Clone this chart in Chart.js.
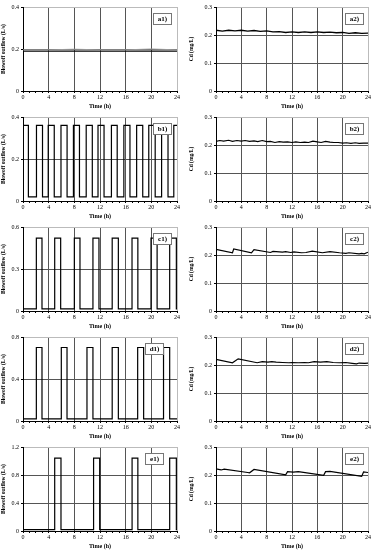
<!DOCTYPE html>
<html>
<head>
<meta charset="utf-8">
<script src="https://cdn.jsdelivr.net/npm/chart.js@4.4.0/dist/chart.umd.min.js"></script>
<style>
  body { margin: 0; background: #fff; width: 377px; height: 550px; position: relative; overflow: hidden; }
  canvas { position: absolute; }
</style>
</head>
<body>
<script>
// ---- left column: blowoff outflow (L/s), pulse start / end times (h) ----
var a1Time = [0, 24];
var a1Flow = [0.19, 0.19];
var a1bTime = [0, 4, 8, 12, 16, 20, 24];
var a1bFlow = [0.196, 0.196, 0.199, 0.196, 0.196, 0.2, 0.196];

var b1Start = [0, 2.1, 3.93, 5.92, 7.86, 9.85, 11.69, 13.78, 15.72, 17.71, 19.6, 21.6, 23.5];
var b1End = [0.84, 3.04, 4.87, 6.87, 8.8, 10.8, 12.63, 14.68, 16.67, 18.66, 20.6, 22.6, 24];
var b1Levels = [0.36, 0.02];

var c1Start = [2.08, 4.94, 8.0, 10.9, 13.9, 16.99, 19.95, 22.86];
var c1End = [2.96, 5.87, 8.88, 11.84, 14.86, 17.9, 20.9, 23.9];
var c1Levels = [0.52, 0.015];

var d1Start = [2.08, 5.97, 9.97, 13.9, 17.87, 21.9];
var d1End = [2.96, 6.86, 10.9, 14.86, 18.8, 22.86];
var d1Levels = [0.70, 0.02];

var e1Start = [4.94, 11.0, 17.0, 22.86];
var e1End = [5.92, 11.95, 17.9, 23.9];
var e1Levels = [1.04, 0.02];

// ---- right column: Cd (mg/L) ----
var a2Time = [0,1,2,3,4,5,6,7,8,9,10,11,12,13,14,15,16,17,18,19,20,21,22,23,24];
var a2Cd = [0.217,0.214,0.217,0.215,0.217,0.214,0.216,0.213,0.215,0.211,0.212,0.209,0.211,0.209,0.211,0.209,0.211,0.209,0.210,0.208,0.209,0.206,0.208,0.206,0.207];

var b2Time = [0,0.6,1.2,2,2.6,3.3,4,4.6,5.3,6,6.6,7.3,8,8.6,9.3,10,10.6,11.3,12,12.6,13.3,14,14.6,15.3,16,16.6,17.3,18,18.6,19.3,20,20.6,21.3,22,22.6,23.3,24];
var b2Cd = [0.213,0.216,0.214,0.217,0.213,0.216,0.214,0.216,0.213,0.215,0.212,0.216,0.212,0.213,0.209,0.212,0.210,0.211,0.209,0.211,0.209,0.210,0.209,0.214,0.211,0.209,0.213,0.210,0.209,0.209,0.207,0.208,0.206,0.208,0.206,0.207,0.207];

var c2Time = [0,2.6,2.8,5.6,6.0,8.6,9.0,10.5,11.0,11.8,12.3,13.5,14.2,15.2,16.8,18.0,19.5,20.5,21.0,22.6,23.0,23.4,24];
var c2Cd = [0.220,0.208,0.222,0.208,0.219,0.209,0.213,0.210,0.212,0.209,0.211,0.208,0.209,0.214,0.208,0.212,0.208,0.206,0.208,0.204,0.206,0.204,0.210];

var d2Time = [0,2.6,3.5,6.5,7.3,8.2,8.8,9.5,10.5,11.5,12,13,14,14.6,15.5,16.5,17.5,18.5,19.5,20.5,21.5,22.2,22.6,23.5,24];
var d2Cd = [0.220,0.208,0.222,0.208,0.212,0.210,0.212,0.210,0.209,0.208,0.209,0.208,0.209,0.208,0.212,0.210,0.212,0.209,0.208,0.209,0.206,0.204,0.207,0.206,0.207];

var e2Time = [0,0.8,1.3,5.0,5.3,6.0,11.0,11.3,12.2,13.0,17.0,17.3,18.0,23.0,23.3,24];
var e2Cd = [0.222,0.218,0.221,0.209,0.208,0.220,0.201,0.212,0.210,0.212,0.199,0.212,0.213,0.195,0.211,0.209];

var serif = '"Liberation Serif", "DejaVu Serif", serif';

function points(xs, ys) {
    return xs.map(function (x, i) { return { x: x, y: ys[i] }; });
}

// turn pulse start/end times into the corners of a square wave
function pulses(starts, ends, levels) {
    var hi = levels[0], lo = levels[1], pts = [];
    if (starts[0] > 0) pts.push({ x: 0, y: lo });
    for (var i = 0; i < starts.length; i++) {
        if (starts[i] > 0) pts.push({ x: starts[i], y: lo });
        pts.push({ x: starts[i], y: hi });
        pts.push({ x: ends[i], y: hi });
        if (ends[i] < 24) pts.push({ x: ends[i], y: lo });
    }
    if (ends[ends.length - 1] < 24) pts.push({ x: 24, y: lo });
    return pts;
}

function line(data, color, width) {
    return { data: data, borderColor: color, borderWidth: width, pointRadius: 0, fill: false, tension: 0 };
}

var tagPlugin = {
    id: 'tag',
    afterDatasetsDraw: function (chart, args, opts) {
        var ctx = chart.ctx, a = chart.chartArea;
        var w = 18, h = 11;
        var x = Math.round(a.right - w - opts.dx), y = Math.round(a.top + opts.dy);
        ctx.save();
        ctx.fillStyle = '#fff';
        ctx.fillRect(x, y, w, h);
        ctx.strokeStyle = '#777';
        ctx.lineWidth = 1;
        ctx.strokeRect(x + 0.5, y + 0.5, w, h);
        ctx.fillStyle = '#000';
        ctx.font = 'bold 7px ' + serif;
        ctx.textAlign = 'center';
        ctx.textBaseline = 'middle';
        ctx.fillText(opts.text, x + w / 2 + 0.5, y + h / 2 + 1);
        ctx.restore();
    }
};

function panel(col, row, datasets, ymax, ystep, tag, tagDx, tagDy) {
    var c = document.createElement('canvas');
    var w = col ? 189 : 188;
    c.width = w;
    c.height = 110;
    c.style.left = (col ? 188 : 0) + 'px';
    c.style.top = (row * 110) + 'px';
    document.body.appendChild(c);

    var ytitle = col ? 'Cd (mg/L)' : 'Blowoff outflow (L/s)';

    new Chart(c, {
        type: 'line',
        data: { datasets: datasets },
        plugins: [tagPlugin],
        options: {
            responsive: false,
            animation: false,
            parsing: false,
            layout: { padding: { top: 7, right: col ? 9 : 11, left: 0, bottom: 0 } },
            plugins: {
                legend: { display: false },
                tooltip: { enabled: false },
                tag: { text: tag, dx: tagDx, dy: tagDy }
            },
            scales: {
                x: {
                    type: 'linear', min: 0, max: 24,
                    ticks: {
                        stepSize: 1, autoSkip: false, maxRotation: 0, padding: 1,
                        color: '#000', font: { family: serif, size: 6 },
                        callback: function (v) { return v % 4 === 0 ? v : ''; }
                    },
                    grid: {
                        color: function (ctx) {
                            var v = ctx.tick.value;
                            if (v === 24) return '#bbb';
                            return v % 4 === 0 ? '#555' : 'rgba(0,0,0,0)';
                        },
                        tickColor: '#000', tickLength: 2, lineWidth: 1
                    },
                    border: { color: '#000', width: 1 },
                    title: { display: true, text: 'Time (h)', color: '#000', padding: 0, font: { family: serif, size: 6, weight: 'bold' } },
                    afterFit: function (s) { s.height = 19; }
                },
                y: {
                    min: 0, max: ymax,
                    ticks: { stepSize: ystep, padding: 2, color: '#000', font: { family: serif, size: 6 } },
                    grid: {
                        color: function (ctx) {
                            return Math.abs(ctx.tick.value - ymax) < 1e-9 ? '#bbb' : '#555';
                        },
                        tickColor: '#000', tickLength: 2, lineWidth: 1
                    },
                    border: { color: '#000', width: 1 },
                    title: { display: true, text: ytitle, color: '#000', padding: 0, font: { family: serif, size: 5.5, weight: 'bold' } },
                    afterFit: function (s) { s.width = col ? 28 : 23; }
                }
            }
        }
    });
}

panel(0, 0, [line(points(a1bTime, a1bFlow), '#999', 1), line(points(a1Time, a1Flow), '#000', 1.3)], 0.4, 0.2, 'a1)', 6, 6);
panel(1, 0, [line(points(a2Time, a2Cd), '#000', 1.3)], 0.3, 0.1, 'a2)', 5, 6);
panel(0, 1, [line(pulses(b1Start, b1End, b1Levels), '#000', 1.2)], 0.4, 0.2, 'b1)', 6, 6);
panel(1, 1, [line(points(b2Time, b2Cd), '#000', 1.2)], 0.3, 0.1, 'b2)', 5, 6);
panel(0, 2, [line(pulses(c1Start, c1End, c1Levels), '#000', 1.2)], 0.6, 0.3, 'c1)', 6, 6);
panel(1, 2, [line(points(c2Time, c2Cd), '#000', 1.2)], 0.3, 0.1, 'c2)', 5, 6);
panel(0, 3, [line(pulses(d1Start, d1End, d1Levels), '#000', 1.2)], 0.8, 0.4, 'd1)', 14, 6);
panel(1, 3, [line(points(d2Time, d2Cd), '#000', 1.2)], 0.3, 0.1, 'd2)', 5, 6);
panel(0, 4, [line(pulses(e1Start, e1End, e1Levels), '#000', 1.2)], 1.2, 0.4, 'e1)', 14, 6);
panel(1, 4, [line(points(e2Time, e2Cd), '#000', 1.2)], 0.3, 0.1, 'e2)', 5, 6);
</script>
</body>
</html>
